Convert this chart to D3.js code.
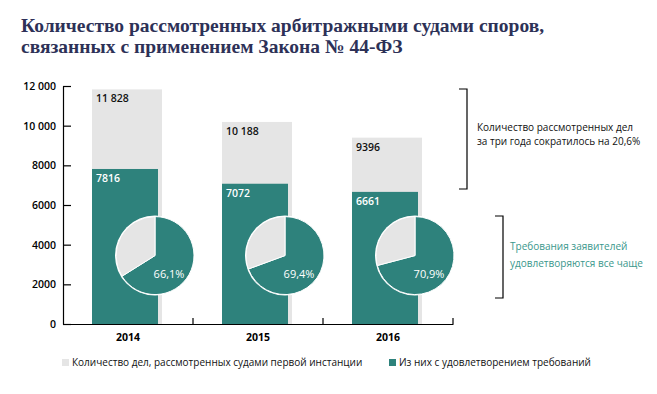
<!DOCTYPE html>
<html>
<head>
<meta charset="utf-8">
<script src="https://cdn.jsdelivr.net/npm/d3@7"></script>
<style>
  body { margin: 0; background: white; }
</style>
</head>
<body>
<div id="container"></div>
<script>
let w = 657;
let h = 394;

let years = ["2014", "2015", "2016"];
let totalCases = [11828, 10188, 9396];
let satisfiedCases = [7816, 7072, 6661];
let satisfiedShare = [66.1, 69.4, 70.9];
let yTicks = [0, 2000, 4000, 6000, 8000, 10000, 12000];

let green = "#2e827c";
let grey = "#e5e5e5";
let sans = "'Open Sans', sans-serif";

function fmt(v){
  // russian style: space as thousands separator only from 10 000
  return v >= 10000 ? d3.format(",")(v).replace(",", " ") : String(v);
}

let viz = d3.select("#container")
  .append("svg")
    .attr("width", w)
    .attr("height", h)
    .style("background-color", "white")
;

// title
let title = viz.append("text")
    .attr("x", 21)
    .attr("y", 32)
    .attr("fill", "#2d3157")
    .style("font-family", "'Liberation Serif', serif")
    .style("font-weight", "bold")
    .style("font-size", "19.5px")
;
title.append("tspan").attr("x", 21).attr("y", 32)
    .text("Количество рассмотренных арбитражными судами споров,");
title.append("tspan").attr("x", 21).attr("y", 53)
    .text("связанных с применением Закона № 44-ФЗ");

let x = d3.scaleBand()
    .domain(years)
    .range([63, 453])
    .padding(0)
;

let y = d3.scaleLinear()
    .domain([0, 12000])
    .range([324, 86])
;

// y axis, ticks pointing inward
let yAxis = viz.append("g")
    .attr("transform", "translate(63,0)")
    .call(d3.axisLeft(y).tickValues(yTicks).tickFormat(fmt).tickSizeInner(-8).tickSizeOuter(0).tickPadding(7))
;
yAxis.selectAll("line, path").style("stroke", "black").style("stroke-width", 1.2);
yAxis.selectAll("text")
    .style("font-family", sans)
    .style("font-weight", "600")
    .style("font-size", "10.5px")
    .attr("fill", "black")
;

let rows = years.map(function(d, i){
  return {year: d, total: totalCases[i], ok: satisfiedCases[i], share: satisfiedShare[i]};
});

// grey bars
viz.selectAll(".total").data(rows).enter()
  .append("rect")
    .attr("class", "total")
    .attr("x", d => x(d.year) + 29)
    .attr("y", d => y(d.total))
    .attr("width", 70)
    .attr("height", d => y(0) - y(d.total))
    .attr("fill", grey)
;

// green bars
viz.selectAll(".ok").data(rows).enter()
  .append("rect")
    .attr("class", "ok")
    .attr("x", d => x(d.year) + 29)
    .attr("y", d => y(d.ok))
    .attr("width", 66)
    .attr("height", d => y(0) - y(d.ok))
    .attr("fill", green)
;

viz.selectAll(".totalLabel").data(rows).enter()
  .append("text")
    .text(d => fmt(d.total))
    .attr("x", d => x(d.year) + 33)
    .attr("y", d => y(d.total) + 13)
    .attr("fill", "#111")
    .style("font-family", sans)
    .style("font-weight", "600")
    .style("font-size", "10.5px")
;

viz.selectAll(".okLabel").data(rows).enter()
  .append("text")
    .text(d => fmt(d.ok))
    .attr("x", d => x(d.year) + 33)
    .attr("y", d => y(d.ok) + 13)
    .attr("fill", "white")
    .style("font-family", sans)
    .style("font-weight", "600")
    .style("font-size", "10.5px")
;

// x axis line with boundary ticks
let xAxis = viz.append("g")
    .attr("transform", "translate(0,324)")
    .call(d3.axisBottom(x).tickSize(0).tickPadding(10))
;
xAxis.select("path").style("stroke", "black").style("stroke-width", 1.2);
xAxis.selectAll("text")
    .style("font-family", sans)
    .style("font-weight", "bold")
    .style("font-size", "10.5px")
    .attr("fill", "black")
;
xAxis.selectAll(".bound").data(years).enter()
  .append("line")
    .attr("x1", d => x(d) + x.bandwidth())
    .attr("x2", d => x(d) + x.bandwidth())
    .attr("y1", 0)
    .attr("y2", -6)
    .style("stroke", "black")
    .style("stroke-width", 1.2)
;

// pies
let pie = d3.pie().sort(null).value(d => d);
let arc = d3.arc().innerRadius(0).outerRadius(39);

let pieGroup = viz.selectAll(".pie").data(rows).enter()
  .append("g")
    .attr("class", "pie")
    .attr("transform", d => "translate(" + (x(d.year) + 92) + "," + y(3450) + ")")
;

pieGroup.append("circle")
    .attr("r", 40)
    .attr("fill", "white")
;

pieGroup.selectAll("path")
  .data(d => pie([d.share, 100 - d.share]))
  .enter()
  .append("path")
    .attr("d", arc)
    .attr("fill", (d, i) => i == 0 ? green : grey)
    .style("stroke", "white")
    .style("stroke-width", 1)
;

pieGroup.append("text")
    .text(d => String(d.share).replace(".", ",") + "%")
    .attr("x", 14)
    .attr("y", 22)
    .attr("text-anchor", "middle")
    .attr("fill", "white")
    .style("font-family", sans)
    .style("font-size", "11px")
;

// brackets
viz.append("path")
    .attr("d", "M 459 89 L 467 89 L 467 189 L 459 189")
    .attr("fill", "none")
    .style("stroke", "black")
    .style("stroke-width", 1.2)
;
viz.append("path")
    .attr("d", "M 495 216 L 503 216 L 503 298 L 495 298")
    .attr("fill", "none")
    .style("stroke", "black")
    .style("stroke-width", 1.2)
;

let note1 = viz.append("text")
    .attr("fill", "#111")
    .style("font-family", sans)
    .style("font-size", "10px")
;
note1.append("tspan").attr("x", 477).attr("y", 131).text("Количество рассмотренных дел");
note1.append("tspan").attr("x", 477).attr("y", 145).text("за три года сократилось на 20,6%");

let note2 = viz.append("text")
    .attr("fill", "#3a978c")
    .style("font-family", sans)
    .style("font-size", "10px")
;
note2.append("tspan").attr("x", 510).attr("y", 250).text("Требования заявителей");
note2.append("tspan").attr("x", 510).attr("y", 267).text("удовлетворяются все чаще");

// legend
let legendItems = [
  {label: "Количество дел, рассмотренных судами первой инстанции", color: grey, x: 62},
  {label: "Из них с удовлетворением требований", color: green, x: 389}
];

let legend = viz.selectAll(".legend").data(legendItems).enter()
  .append("g")
    .attr("class", "legend")
    .attr("transform", d => "translate(" + d.x + ",359)")
;
legend.append("rect")
    .attr("width", 7)
    .attr("height", 7)
    .attr("fill", d => d.color)
;
legend.append("text")
    .text(d => d.label)
    .attr("x", 10)
    .attr("y", 7)
    .attr("fill", "#111")
    .style("font-family", sans)
    .style("font-size", "10px")
;
</script>
</body>
</html>
